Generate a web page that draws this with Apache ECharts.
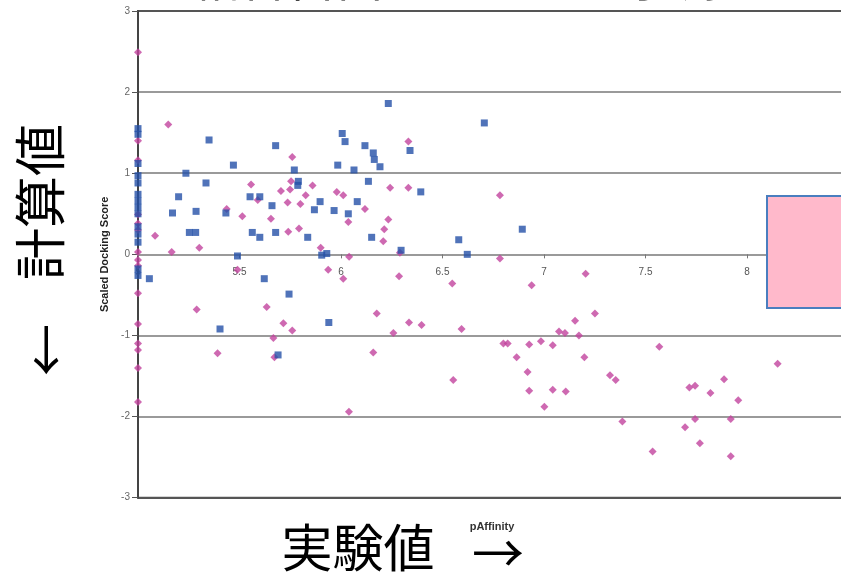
<!DOCTYPE html>
<html><head><meta charset="utf-8">
<script src="https://cdn.jsdelivr.net/npm/echarts@6/dist/echarts.min.js"></script>
<style>html,body{margin:0;padding:0;background:#fff}#c{width:841px;height:579px}</style>
</head><body><div id="c"></div>
<script>
const titleText = '結合自由エネルギー予測';
const yAxisName = 'Scaled Docking Score';
const xAxisName = 'pAffinity';
const yLabelJa = '計算値';
const xLabelJa = '実験値';
const xTicks = { min: 5, max: 8.5, step: 0.5 };
const yTicks = { min: -3, max: 3, step: 1 };

const blueSquares = [
 [5,1.55],[5,1.48],[5,1.12],[5,0.97],[5,0.88],[5,0.74],[5,0.66],[5,0.58],[5,0.5],[5,0.34],[5,0.25],[5,0.15],[5,-0.18],[5,-0.26],
 [5.056,-0.3],[5.17,0.51],[5.2,0.71],[5.236,1.0],[5.253,0.27],[5.284,0.27],[5.286,0.53],[5.335,0.88],[5.35,1.41],
 [5.404,-0.92],[5.433,0.51],[5.47,1.1],[5.49,-0.02],[5.552,0.71],[5.563,0.27],[5.6,0.71],[5.6,0.21],[5.622,-0.3],
 [5.66,0.6],[5.678,1.34],[5.678,0.27],[5.69,-1.24],[5.744,-0.49],[5.77,1.04],[5.79,0.9],[5.787,0.85],[5.836,0.21],
 [5.869,0.55],[5.897,0.65],[5.905,-0.01],[5.93,0.01],[5.94,-0.84],[5.966,0.54],[5.984,1.1],[6.006,1.49],[6.02,1.39],
 [6.036,0.5],[6.064,1.04],[6.08,0.65],[6.118,1.34],[6.135,0.9],[6.151,0.21],[6.159,1.25],[6.164,1.17],[6.192,1.08],
 [6.233,1.86],[6.296,0.05],[6.34,1.28],[6.393,0.77],[6.58,0.18],[6.622,0.0],[6.706,1.62],[6.893,0.31]
];

const pinkDiamonds = [
 [5,2.49],[5,1.4],[5,1.16],[5,0.49],[5,0.38],[5,0.3],[5,0.03],[5,-0.07],[5,-0.14],[5,-0.48],[5,-0.86],[5,-1.1],[5,-1.18],[5,-1.4],[5,-1.82],
 [5.084,0.23],[5.149,1.6],[5.166,0.03],[5.289,-0.68],[5.302,0.08],[5.392,-1.22],[5.437,0.56],[5.49,-0.19],[5.514,0.47],
 [5.557,0.86],[5.59,0.67],[5.634,-0.65],[5.655,0.44],[5.667,-1.03],[5.672,-1.27],[5.704,0.78],[5.716,-0.85],[5.737,0.64],
 [5.74,0.28],[5.749,0.8],[5.754,0.9],[5.76,1.2],[5.76,-0.94],[5.793,0.32],[5.8,0.62],[5.826,0.73],[5.86,0.85],[5.9,0.08],
 [5.937,-0.19],[5.979,0.77],[6.011,0.73],[6.011,-0.3],[6.036,0.4],[6.04,-0.03],[6.039,-1.94],[6.118,0.56],[6.159,-1.21],
 [6.176,-0.73],[6.208,0.16],[6.213,0.31],[6.233,0.43],[6.242,0.82],[6.258,-0.97],[6.286,-0.27],[6.29,0.02],[6.332,1.39],
 [6.332,0.82],[6.335,-0.84],[6.397,-0.87],[6.548,-0.36],[6.553,-1.55],[6.594,-0.92],[6.783,0.73],[6.783,-0.05],[6.8,-1.1],
 [6.821,-1.1],[6.865,-1.27],[6.919,-1.45],[6.927,-1.11],[6.927,-1.68],[6.939,-0.38],[6.985,-1.07],[7.002,-1.88],[7.043,-1.12],
 [7.043,-1.67],[7.074,-0.95],[7.103,-0.97],[7.107,-1.69],[7.153,-0.82],[7.172,-1.0],[7.199,-1.27],[7.205,-0.24],[7.251,-0.73],
 [7.325,-1.49],[7.353,-1.55],[7.386,-2.06],[7.535,-2.43],[7.568,-1.14],[7.695,-2.13],[7.716,-1.64],[7.744,-1.62],[7.744,-2.03],
 [7.768,-2.33],[7.82,-1.71],[7.887,-1.54],[7.92,-2.03],[7.92,-2.49],[7.957,-1.8],[8.151,-1.35]
];

const gridTop = 11, gridHeight = 486.7;
const chart = echarts.init(document.getElementById('c'), null, { renderer: 'canvas' });
const splitColors = ['#555', '#9a9a9a', '#9a9a9a', '#9a9a9a', '#9a9a9a', '#9a9a9a', '#555'];
chart.setOption({
  animation: false,
  backgroundColor: '#fff',
  textStyle: { fontFamily: 'Liberation Sans, Arial, sans-serif' },
  grid: { left: 138, top: gridTop, width: 710.5, height: gridHeight, outerBoundsMode: 'none', containLabel: false,
          show: true, borderColor: '#555', borderWidth: 2, backgroundColor: 'transparent' },
  xAxis: {
    type: 'value', min: xTicks.min, max: xTicks.max, interval: xTicks.step,
    position: 'bottom', offset: -gridHeight / 2,
    axisLine: { onZero: false, lineStyle: { color: '#9a9a9a', width: 2 } },
    axisTick: { show: true, length: 4, lineStyle: { color: '#777', width: 1 } },
    axisLabel: { fontSize: 10, color: '#555', margin: 13, showMaxLabel: false },
    splitLine: { show: false }
  },
  yAxis: {
    type: 'value', min: yTicks.min, max: yTicks.max, interval: yTicks.step,
    name: yAxisName, nameLocation: 'middle', nameRotate: 90, nameGap: 28,
    nameTextStyle: { fontSize: 11, fontWeight: 'bold', color: '#222' },
    axisLine: { show: true, onZero: false, lineStyle: { color: '#444', width: 2 } },
    axisTick: { show: true, length: 6, lineStyle: { color: '#555', width: 1 } },
    axisLabel: { fontSize: 10, color: '#666', margin: 8 },
    splitLine: { show: true, lineStyle: { color: splitColors, width: 2 } }
  },
  series: [
    { type: 'scatter', name: 'pink', data: pinkDiamonds, symbol: 'diamond', symbolSize: 8,
      itemStyle: { color: '#C2449E' }, z: 3 },
    { type: 'scatter', name: 'blue', data: blueSquares, symbol: 'rect', symbolSize: 7,
      itemStyle: { color: '#2450A8' }, z: 4 }
  ],
  graphic: [
    { type: 'text', left: 192, top: -46, z: 10, style: { text: titleText, font: '48px "Noto Sans CJK JP"', fill: '#000' } },
    { type: 'text', x: 492, y: 527, z: 10, style: { text: xAxisName, font: 'bold 11px "Liberation Sans"', fill: '#333', align: 'center', verticalAlign: 'middle' } },
    { type: 'text', x: 40, y: 202, rotation: Math.PI / 2, z: 10, style: { text: yLabelJa, font: '52px "Noto Sans CJK JP"', fill: '#000', align: 'center', verticalAlign: 'middle' } },
    { type: 'text', x: 46, y: 350, rotation: Math.PI / 2, z: 10, style: { text: '←', font: '52px "Noto Sans CJK JP"', fill: '#000', align: 'center', verticalAlign: 'middle' } },
    { type: 'text', x: 358, y: 548, z: 10, style: { text: xLabelJa, font: '51px "Noto Sans CJK JP"', fill: '#000', align: 'center', verticalAlign: 'middle' } },
    { type: 'text', x: 498, y: 553, z: 10, style: { text: '→', font: '52px "Noto Sans CJK JP"', fill: '#000', align: 'center', verticalAlign: 'middle' } },
    { type: 'rect', shape: { x: 767, y: 196, width: 90, height: 112 }, z: 20, style: { fill: '#FFB9CB', stroke: '#4A7EBF', lineWidth: 2 } }
  ]
});
</script></body></html>
